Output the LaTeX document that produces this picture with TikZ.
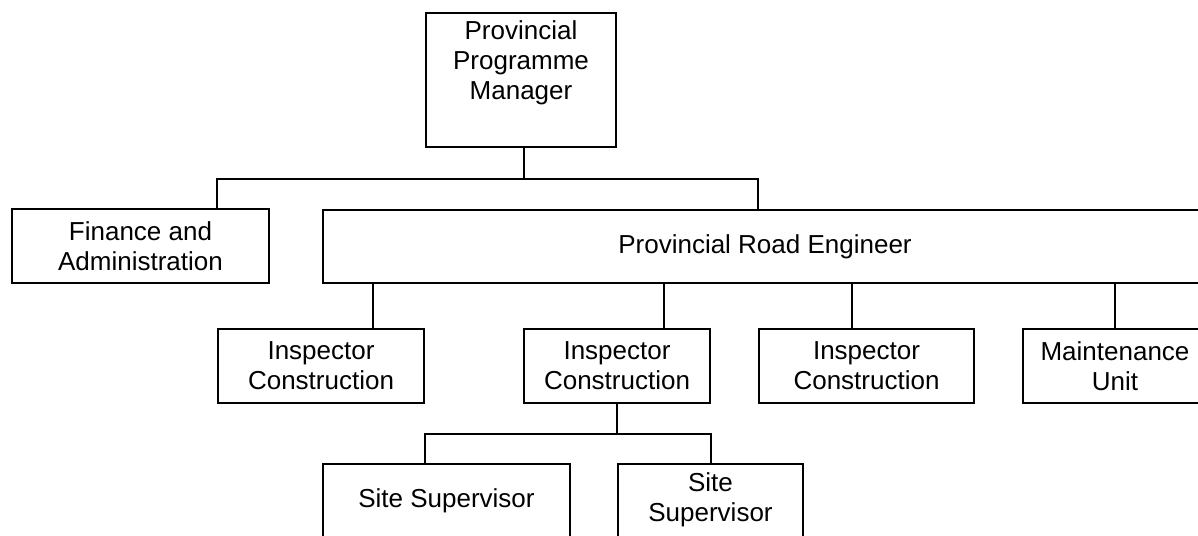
\documentclass[tikz,border=0pt]{standalone}
\usepackage{fontspec}
\setmainfont{Liberation Sans}
\begin{document}
\begin{tikzpicture}[x=1pt,y=-1pt,
  box/.style={draw, line width=2pt, inner sep=0pt, align=center, font=\fontsize{26}{30}\selectfont},
  lbl/.style={inner sep=0pt, align=center, font=\fontsize{26}{30}\selectfont},
  conn/.style={line width=2pt}]
\useasboundingbox (0,0) rectangle (1198,535);
\begin{scope}
\clip (0,0) rectangle (1198,535);
% boxes
\node[box, minimum width=190pt, minimum height=134pt] (ppm) at (521,80) {};
\node[lbl, anchor=north] (ppmt) at (521,20) {Provincial\\Programme\\Manager};
\node[box, minimum width=257pt, minimum height=74pt] (fa) at (140.5,246) {Finance and\\Administration};
\node[box, minimum width=884pt, minimum height=73pt] (pre) at (765,246.5) {Provincial Road Engineer};
\node[box, minimum width=206pt, minimum height=74pt] (i1) at (321,366) {Inspector\\Construction};
\node[box, minimum width=186pt, minimum height=74pt] (i2) at (617,366) {Inspector\\Construction};
\node[box, minimum width=215pt, minimum height=74pt] (i3) at (866.5,366) {Inspector\\Construction};
\node[box, minimum width=184pt, minimum height=74pt] (mu) at (1115,366) {Maintenance\\Unit};
\node[box, minimum width=247pt, minimum height=95pt] (ss1) at (446.5,511.5) {};
\node[lbl, anchor=north] (ss1t) at (446.5,488) {Site Supervisor};
\node[box, minimum width=185pt, minimum height=95pt] (ss2) at (710.5,511.5) {};
\node[lbl, anchor=north] (ss2t) at (710.5,472) {Site\\Supervisor};
% connector coordinates
\coordinate (b1l) at (217,179);
\coordinate (b1m) at (524,179);
\coordinate (b1r) at (758,179);
\coordinate (k1) at (373,0);
\coordinate (k2) at (664,0);
\coordinate (k3) at (852,0);
\coordinate (k4) at (1115,0);
\coordinate (b3l) at (425,434);
\coordinate (b3m) at (617,434);
\coordinate (b3r) at (711,434);
% connectors
\draw[conn] (ppm.south -| b1m) -- (b1m);
\draw[conn] (fa.north -| b1l) -- (b1l) -- (b1r) -- (pre.north -| b1r);
\draw[conn] (pre.south -| k1) -- (i1.north -| k1);
\draw[conn] (pre.south -| k2) -- (i2.north -| k2);
\draw[conn] (pre.south -| k3) -- (i3.north -| k3);
\draw[conn] (pre.south -| k4) -- (mu.north -| k4);
\draw[conn] (i2.south -| b3m) -- (b3m);
\draw[conn] (ss1.north -| b3l) -- (b3l) -- (b3r) -- (ss2.north -| b3r);
\end{scope}
\end{tikzpicture}
\end{document}
